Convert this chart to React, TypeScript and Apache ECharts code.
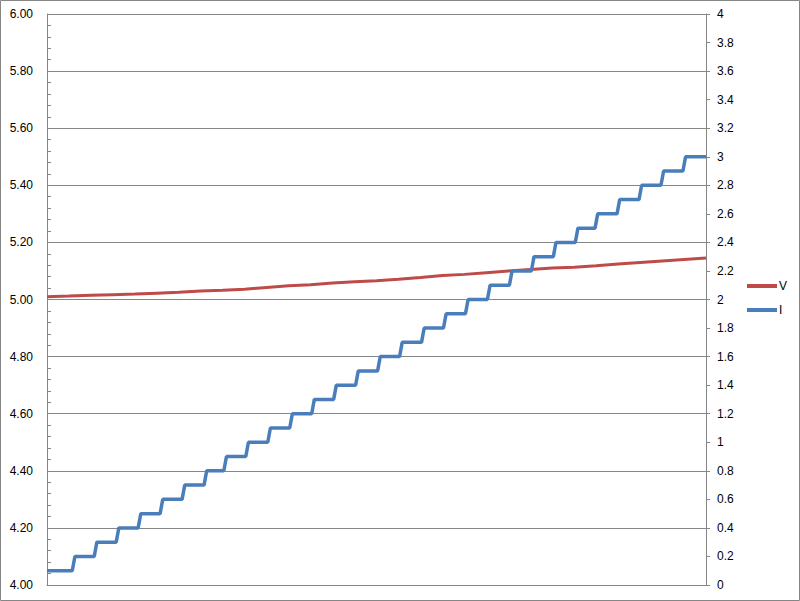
import React, { useEffect, useRef } from "react";
import * as echarts from "echarts";

// Sample index (hidden x axis)
const X_MAX = 300;

// Current I: level values and the sample index where each new level starts
const I_LEVELS = [
  0.1, 0.2, 0.3, 0.4, 0.5, 0.6, 0.7, 0.8, 0.9, 1.0,
  1.1, 1.2, 1.3, 1.4, 1.5, 1.6, 1.7, 1.8, 1.9, 2.0,
  2.1, 2.2, 2.3, 2.4, 2.5, 2.6, 2.7, 2.8, 2.9, 3.0,
];
const I_STEP_X = [
  12, 22, 32, 42, 52, 62, 72, 81, 91, 101,
  111, 121, 131, 141, 151, 161, 171, 181, 191, 201,
  211, 221, 231, 241, 250, 260, 270, 280, 290,
];

// Voltage V samples
const V_X = [
  0, 10, 20, 30, 40, 50, 60, 70, 80, 90, 100, 110, 120, 130, 140, 150,
  160, 170, 180, 190, 200, 210, 220, 230, 240, 250, 260, 270, 280, 290, 300,
];
const V_VALUES = [
  5.010, 5.012, 5.015, 5.017, 5.019, 5.022, 5.025, 5.030, 5.032, 5.036,
  5.042, 5.048, 5.052, 5.058, 5.062, 5.066, 5.071, 5.077, 5.084, 5.088,
  5.094, 5.100, 5.105, 5.110, 5.113, 5.118, 5.124, 5.130, 5.135, 5.140, 5.145,
];

const V_TICKS = { min: 4, max: 6, interval: 0.2 };
const I_TICKS = { min: 0, max: 4, interval: 0.2 };

export default function App() {
  const ref = useRef<HTMLDivElement>(null);
  useEffect(() => {
    if (!ref.current) return;
    const chart = echarts.init(ref.current, null, { renderer: "svg" });

    const iData: [number, number][] = [[0, I_LEVELS[0]]];
    I_STEP_X.forEach((t, k) => {
      iData.push([t - 0.5, I_LEVELS[k]]);
      iData.push([t + 0.7, I_LEVELS[k + 1]]);
    });
    iData.push([X_MAX, I_LEVELS[I_LEVELS.length - 1]]);

    const vData = V_X.map((x, i) => [x, V_VALUES[i]]);

    const gray = "#868686";
    const font = "'Liberation Sans', Arial, sans-serif";

    chart.setOption({
      animation: false,
      backgroundColor: "#ffffff",
      textStyle: { fontFamily: font },
      grid: { left: 47, right: 94, top: 14, bottom: 16, containLabel: false },
      graphic: [
        {
          type: "rect",
          shape: { x: 0.5, y: 0.5, width: 799, height: 600 },
          style: { fill: "none", stroke: gray, lineWidth: 1 },
          silent: true,
        },
      ],
      legend: {
        orient: "vertical",
        left: 747,
        top: 280,
        padding: 0,
        itemGap: 12,
        itemWidth: 30,
        itemHeight: 4,
        icon: "rect",
        textStyle: { fontSize: 12, color: "#000", fontFamily: font, padding: [0, 0, 0, -3] },
        data: ["V", "I"],
      },
      xAxis: {
        type: "value",
        min: 0,
        max: X_MAX,
        axisLine: { show: true, lineStyle: { color: gray, width: 1 } },
        axisTick: { show: false },
        axisLabel: { show: false },
        splitLine: { show: false },
      },
      yAxis: [
        {
          type: "value",
          position: "left",
          min: V_TICKS.min,
          max: V_TICKS.max,
          interval: V_TICKS.interval,
          axisLine: { show: true, lineStyle: { color: gray, width: 1 } },
          axisTick: { show: true, inside: true, length: 4, lineStyle: { color: gray } },
          minorTick: { show: true, splitNumber: 5, length: 4, lineStyle: { color: gray } },
          axisLabel: {
            formatter: (v: number) => v.toFixed(2),
            fontSize: 12,
            color: "#000",
            margin: 14,
            fontFamily: font,
          },
          splitLine: { show: true, lineStyle: { color: gray, width: 1 } },
        },
        {
          type: "value",
          position: "right",
          min: I_TICKS.min,
          max: I_TICKS.max,
          interval: I_TICKS.interval,
          axisLine: { show: true, lineStyle: { color: gray, width: 1 } },
          axisTick: { show: true, inside: false, length: 4, lineStyle: { color: gray } },
          axisLabel: {
            formatter: (v: number) => String(Math.round(v * 10) / 10),
            fontSize: 12,
            color: "#000",
            margin: 11,
            fontFamily: font,
          },
          splitLine: { show: false },
        },
      ],
      series: [
        {
          name: "V",
          type: "line",
          yAxisIndex: 0,
          data: vData,
          showSymbol: false,
          symbol: "none",
          color: "#BE4B48",
          lineStyle: { color: "#BE4B48", width: 3 },
        },
        {
          name: "I",
          type: "line",
          yAxisIndex: 1,
          data: iData,
          showSymbol: false,
          symbol: "none",
          color: "#4A7EBB",
          lineStyle: { color: "#4A7EBB", width: 3.5 },
        },
      ],
    });
    return () => chart.dispose();
  }, []);

  return (
    <div
      ref={ref}
      style={{ position: "fixed", left: 0, top: 0, width: 800, height: 601, background: "#fff" }}
    />
  );
}
